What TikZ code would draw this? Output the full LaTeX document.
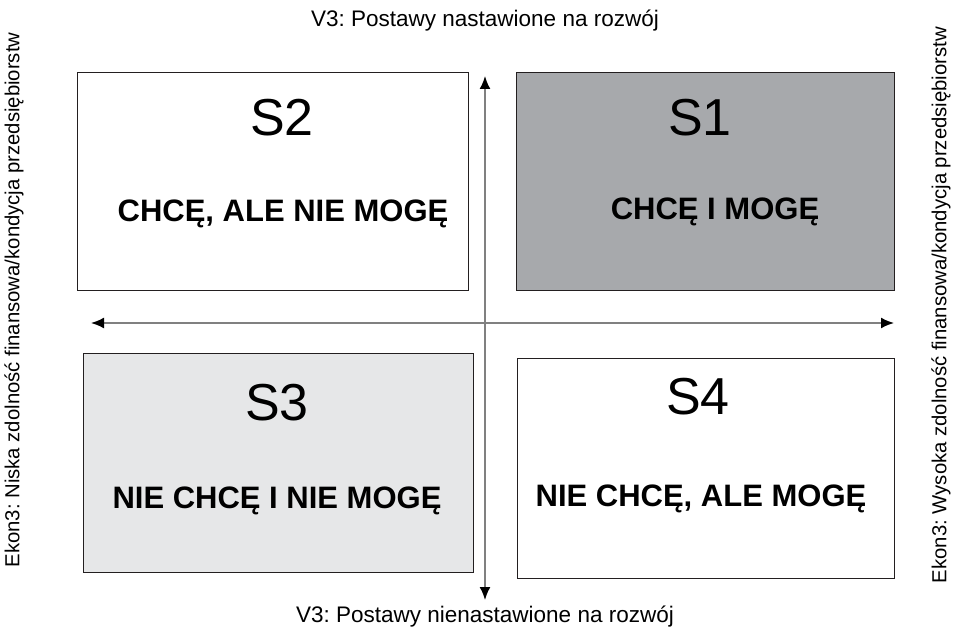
\documentclass[tikz,border=0pt]{standalone}
\usepackage{fontspec}
\setmainfont{Liberation Sans}
\usetikzlibrary{arrows.meta}
\frenchspacing
\definecolor{boxline}{HTML}{231F20}
\definecolor{darkfill}{HTML}{A7A9AC}
\definecolor{lightfill}{HTML}{E6E7E8}
\definecolor{axisgray}{HTML}{808080}
\tikzset{
  quad/.style={draw=boxline, line width=1.3pt, anchor=north west, inner sep=0pt},
  slabel/.style={font=\fontsize{52}{58}\selectfont, inner sep=0pt},
  blabel/.style={font=\fontsize{31}{36}\selectfont\bfseries, inner sep=0pt},
  side/.style={font=\fontsize{20.3}{24}\selectfont, inner sep=0pt},
  tb/.style={font=\fontsize{22.5}{26}\selectfont, inner sep=0pt},
  axis/.style={draw=axisgray, line width=1.8pt, {Latex[length=13pt,width=11pt,color=black]}-{Latex[length=13pt,width=11pt,color=black]}}
}
\begin{document}
\begin{tikzpicture}[x=1pt,y=-1pt]
\useasboundingbox (0,0) rectangle (955,631);
% boxes
\node[quad, minimum width=391pt, minimum height=218pt] (b2) at (77,72) {};
\node[quad, fill=darkfill, minimum width=378pt, minimum height=218pt] (b1) at (516,72) {};
\node[quad, fill=lightfill, minimum width=390pt, minimum height=219pt] (b3) at (83,353) {};
\node[quad, minimum width=377pt, minimum height=220pt] (b4) at (517,358) {};
% labels
\node[slabel] (s2) at (282,118) {S2};
\node[blabel] (t2) at (283,214) {CHCĘ, ALE NIE MOGĘ};
\node[slabel] (s1) at (700,118) {S1};
\node[blabel] (t1) at (715,212) {CHCĘ I MOGĘ};
\node[slabel] (s3) at (277,403) {S3};
\node[blabel] (t3) at (277,501) {NIE CHCĘ I NIE MOGĘ};
\node[slabel] (s4) at (698,397) {S4};
\node[blabel] (t4) at (701,499) {NIE CHCĘ, ALE MOGĘ};
% axes
\coordinate (vt) at (485,76);
\coordinate (vb) at (485,600);
\coordinate (hl) at (91,323);
\coordinate (hr) at (894,323);
\draw[axis] (vt) -- (vb);
\draw[axis] (hl) -- (hr);
% axis texts
\node[tb] (top) at (485,21) {V3: Postawy nastawione na rozwój};
\node[tb] (bot) at (485,617) {V3: Postawy nienastawione na rozwój};
\node[side, rotate=90] (left) at (14,300) {Ekon3: Niska zdolność finansowa/kondycja przedsiębiorstw};
\node[side, rotate=90] (right) at (941,305) {Ekon3: Wysoka zdolność finansowa/kondycja przedsiębiorstw};
\end{tikzpicture}
\end{document}
